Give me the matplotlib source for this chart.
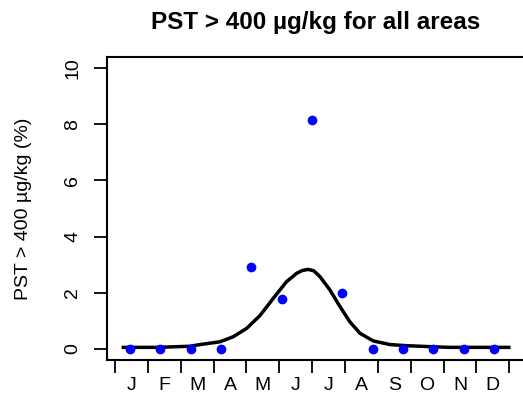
import matplotlib
matplotlib.use("Agg")
import matplotlib.pyplot as plt

# Data (x in months from Jan 1)
period_x = [0.46, 1.38, 2.31, 3.23, 4.15, 5.08, 6.00, 6.92, 7.85, 8.77, 9.69, 10.62, 11.54]
pct_values = [0, 0, 0, 0, 2.93, 1.76, 8.15, 2.00, 0, 0, 0, 0, 0]

curve_x = [0.20, 1.27, 2.28, 2.59, 3.20, 3.60, 4.01, 4.41, 4.82, 5.22, 5.53, 5.70, 5.88,
           6.05, 6.24, 6.54, 6.85, 7.15, 7.46, 7.86, 8.37, 8.88, 9.50, 10.20, 12.04]
curve_y = [0.05, 0.05, 0.09, 0.15, 0.25, 0.43, 0.73, 1.18, 1.80, 2.39, 2.69, 2.79, 2.83,
           2.78, 2.57, 2.10, 1.50, 0.96, 0.55, 0.28, 0.15, 0.11, 0.08, 0.05, 0.05]

month_labels = ["J", "F", "M", "A", "M", "J", "J", "A", "S", "O", "N", "D"]
y_ticks = [0, 2, 4, 6, 8, 10]

plt.rcParams['font.family'] = ['Liberation Sans', 'DejaVu Sans']

W, H = 523, 401
fig = plt.figure(figsize=(W / 100, H / 100), dpi=100)
ax = fig.add_axes([107 / W, 1 - 360 / H, (525 - 107) / W, (360 - 57) / H])

ax.plot(curve_x, curve_y, color="black", lw=2.5, solid_capstyle="butt",
        solid_joinstyle="round", zorder=2)
ax.plot(period_x, pct_values, "o", color="#0000FF", markersize=7, markeredgewidth=0, zorder=3)

ax.set_xlim(-0.243, 12.48)
ax.set_ylim(-0.4, 10.4)

ax.set_xticks(range(13))
ax.set_xticklabels([])
ax.set_xticks([i + 0.5 for i in range(12)], minor=True)
ax.set_xticklabels(month_labels, minor=True, fontsize=14)
ax.tick_params(axis="x", which="major", direction="out", length=9.5, width=1.3)
ax.tick_params(axis="x", which="minor", length=0, pad=12.5)

ax.set_yticks(y_ticks)
ax.set_yticklabels([str(v) for v in y_ticks], rotation=90, va="center", fontsize=14)
ax.tick_params(axis="y", direction="out", length=9.5, width=1.3, pad=9)

for s in ax.spines.values():
    s.set_linewidth(1.5)

fig.text(24 / W, 1 - 209 / H, "PST > 400 µg/kg (%)", rotation=90, ha="center", va="center", fontsize=14)
fig.text(316 / W, 1 - 22 / H, "PST > 400 µg/kg for all areas", ha="center", va="center",
         fontsize=17.5, fontweight="bold")

fig.savefig("out.png", dpi=100)
